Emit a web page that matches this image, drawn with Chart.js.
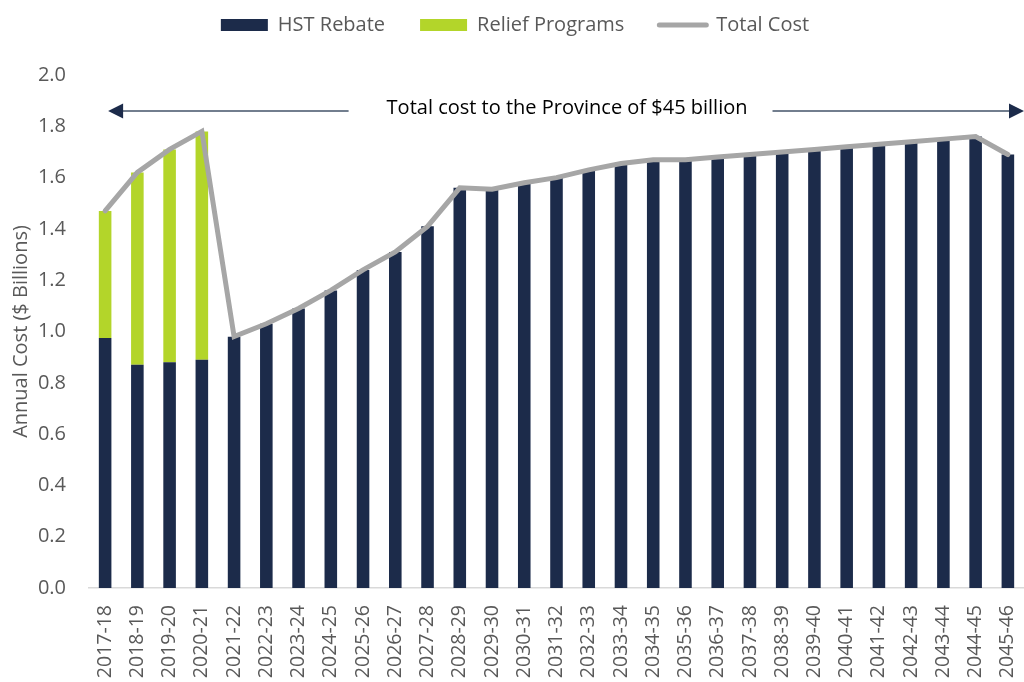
<!DOCTYPE html>
<html>
<head>
<meta charset="utf-8">
<script src="https://cdn.jsdelivr.net/npm/chart.js@4"></script>
<style>
  html, body { margin: 0; padding: 0; background: #fff; }
  #wrap { width: 1024px; height: 682px; }
</style>
</head>
<body>
<div id="wrap"><canvas id="myChart"></canvas></div>
<script>
// fiscal years on the x axis
const years = ['2017-18', '2018-19', '2019-20', '2020-21', '2021-22', '2022-23', '2023-24', '2024-25',
  '2025-26', '2026-27', '2027-28', '2028-29', '2029-30', '2030-31', '2031-32', '2032-33', '2033-34',
  '2034-35', '2035-36', '2036-37', '2037-38', '2038-39', '2039-40', '2040-41', '2041-42', '2042-43',
  '2043-44', '2044-45', '2045-46'];

// $ billions
const hstRebate = [0.975, 0.87, 0.88, 0.89, 0.98, 1.03, 1.09, 1.16, 1.24, 1.31, 1.41, 1.56, 1.555,
  1.58, 1.60, 1.63, 1.655, 1.67, 1.67, 1.68, 1.69, 1.70, 1.71, 1.72, 1.73, 1.74, 1.75, 1.76, 1.69];
const reliefPrograms = [0.495, 0.75, 0.83, 0.89, null, null, null, null, null, null, null, null, null,
  null, null, null, null, null, null, null, null, null, null, null, null, null, null, null, null];
const totalCost = [1.47, 1.62, 1.71, 1.78, 0.98, 1.03, 1.09, 1.16, 1.24, 1.31, 1.41, 1.56, 1.555,
  1.58, 1.60, 1.63, 1.655, 1.67, 1.67, 1.68, 1.69, 1.70, 1.71, 1.72, 1.73, 1.74, 1.75, 1.76, 1.69];

const yTicks = ['0.0', '0.2', '0.4', '0.6', '0.8', '1.0', '1.2', '1.4', '1.6', '1.8', '2.0'];
const noteText = 'Total cost to the Province of $45 billion';

const navy = '#1c2b4a';
const lime = '#b3d52a';
const grey = '#a6a6a6';
const textGrey = '#595959';
const font = '"Open Sans", "Noto Sans", sans-serif';

Chart.defaults.font.family = font;
Chart.defaults.font.size = 20;
Chart.defaults.color = textGrey;

// arrows + text across the top of the plot
const totalNote = {
  id: 'totalNote',
  afterDraw(chart) {
    const ctx = chart.ctx;
    const x = chart.scales.x, y = chart.scales.y;
    const yy = y.getPixelForValue(1.86);
    const leftTip = x.getPixelForValue(0) + 3;
    const rightTip = 1024;
    const mid = (leftTip + rightTip) / 2 + 1;
    ctx.save();
    ctx.font = '20px ' + font;
    const w = ctx.measureText(noteText).width;
    ctx.fillStyle = '#000';
    ctx.textAlign = 'center';
    ctx.textBaseline = 'middle';
    ctx.fillText(noteText, mid, yy - 3);

    ctx.strokeStyle = '#44546a';
    ctx.lineWidth = 1.5;
    ctx.beginPath();
    ctx.moveTo(leftTip + 10, yy);
    ctx.lineTo(mid - w / 2 - 38, yy);
    ctx.moveTo(mid + w / 2 + 25, yy);
    ctx.lineTo(rightTip - 10, yy);
    ctx.stroke();

    ctx.fillStyle = navy;
    ctx.beginPath();
    ctx.moveTo(leftTip, yy);
    ctx.lineTo(leftTip + 15, yy - 7.5);
    ctx.lineTo(leftTip + 15, yy + 7.5);
    ctx.closePath();
    ctx.moveTo(rightTip, yy);
    ctx.lineTo(rightTip - 15, yy - 7.5);
    ctx.lineTo(rightTip - 15, yy + 7.5);
    ctx.closePath();
    ctx.fill();
    ctx.restore();
  }
};

// fixed legend height and a small horizontal shift
const legendFix = {
  id: 'legendFix',
  beforeInit(chart) {
    const fit = chart.legend.fit;
    chart.legend.fit = function () {
      fit.bind(chart.legend)();
      this.height = 95;
    };
  },
  afterLayout(chart) {
    chart.legend.left += 1;
    chart.legend.right += 1;
  }
};

function createChart(ctx) {
  return new Chart(ctx, {
    data: {
      labels: years,
      datasets: [
        {
          type: 'bar',
          label: 'HST Rebate',
          data: hstRebate,
          backgroundColor: navy,
          stack: 'bars',
          order: 1,
          categoryPercentage: 0.39,
          barPercentage: 1
        },
        {
          type: 'bar',
          label: 'Relief Programs',
          data: reliefPrograms,
          backgroundColor: lime,
          stack: 'bars',
          order: 1,
          categoryPercentage: 0.39,
          barPercentage: 1
        },
        {
          type: 'line',
          label: 'Total Cost',
          data: totalCost,
          borderColor: grey,
          backgroundColor: grey,
          borderWidth: 5,
          borderCapStyle: 'round',
          pointRadius: 0,
          tension: 0,
          stack: 'line',
          order: 0
        }
      ]
    },
    options: {
      responsive: true,
      maintainAspectRatio: false,
      animation: false,
      layout: { padding: { top: -20, left: 0, right: -4, bottom: 0 } },
      plugins: {
        tooltip: { enabled: false },
        legend: {
          position: 'top',
          labels: {
            usePointStyle: true,
            pointStyleWidth: 47,
            boxHeight: 12,
            padding: 35,
            color: textGrey,
            font: { size: 20 },
            sort: (a, b) => a.datasetIndex - b.datasetIndex,
            generateLabels(chart) {
              const items = Chart.defaults.plugins.legend.labels.generateLabels(chart);
              items.forEach(it => {
                const ds = chart.data.datasets[it.datasetIndex];
                if (ds.type === 'line') {
                  it.pointStyle = 'line';
                  it.strokeStyle = grey;
                  it.lineWidth = 5;
                  it.lineCap = 'round';
                } else {
                  it.pointStyle = 'rect';
                  it.lineWidth = 0;
                }
              });
              return items;
            }
          }
        }
      },
      scales: {
        x: {
          stacked: true,
          grid: { display: false, drawTicks: false },
          border: { display: true, color: '#d9d9d9', width: 1.5 },
          ticks: { minRotation: 90, maxRotation: 90, autoSkip: false, padding: 17, color: textGrey, font: { size: 19.5 } },
          afterFit(s) {
            s.height = 94;
            s.paddingLeft = 0;
            s.paddingRight = 0;
          }
        },
        y: {
          stacked: true,
          min: 0,
          max: 2,
          grid: { display: false, drawTicks: false },
          border: { display: false },
          ticks: {
            stepSize: 0.2,
            padding: 23,
            color: textGrey,
            callback: (v, i) => yTicks[i]
          },
          title: {
            display: true,
            text: 'Annual Cost ($ Billions)',
            color: textGrey,
            font: { size: 20 },
            padding: { top: 9, bottom: 0 }
          },
          afterFit(s) { s.width = 89; }
        }
      }
    },
    plugins: [legendFix, totalNote]
  });
}

window.addEventListener('DOMContentLoaded', () => {
  createChart(document.getElementById('myChart').getContext('2d'));
});
</script>
</body>
</html>
